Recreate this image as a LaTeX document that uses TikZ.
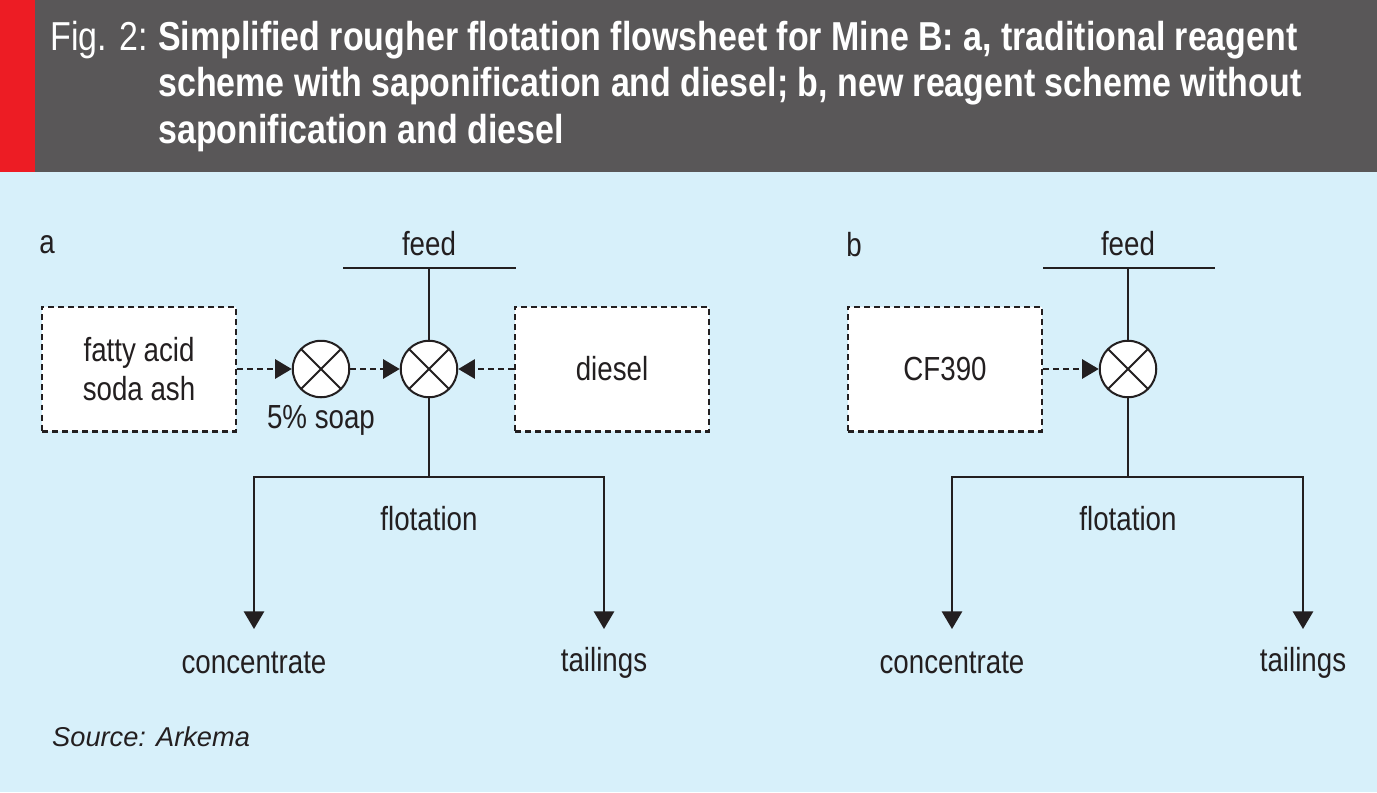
\documentclass[tikz,border=0pt]{standalone}
\usepackage{fontspec}
\setmainfont{Liberation Sans}[FakeStretch=0.83]
\newfontfamily\titlefont{Liberation Sans}[FakeStretch=0.84]
\newfontfamily\sourcefont{Liberation Sans}
\usetikzlibrary{arrows.meta,positioning}
\definecolor{bgblue}{RGB}{215,240,250}
\definecolor{headgray}{RGB}{89,87,88}
\definecolor{barred}{RGB}{237,28,36}
\definecolor{inkdark}{RGB}{35,31,32}
\tikzset{
  line/.style={draw=inkdark, line width=1.15pt},
  reagent/.style={line, dash pattern=on 3.4pt off 2.3pt, fill=white,
    minimum width=3.88cm, minimum height=2.5cm, inner sep=0pt, align=center},
  mixer/.style={line, circle, fill=white, minimum size=1.13cm, inner sep=0pt,
    path picture={\draw[line]
      (path picture bounding box.north west) -- (path picture bounding box.south east)
      (path picture bounding box.north east) -- (path picture bounding box.south west);}},
  dose/.style={line, dash pattern=on 3.4pt off 2.3pt, -{Triangle[length=9.5pt,width=11pt]}},
  product/.style={line, -{Triangle[length=10pt,width=11.5pt]}},
  label/.style={text=inkdark, font=\fontsize{19}{22}\selectfont},
  heading/.style={anchor=base west, text=white, inner sep=0pt}
}
\begin{document}
\begin{tikzpicture}[x=0.02cm, y=-0.02cm, every node/.style={label}]
    % Background and title bar
    \fill[bgblue] (0,0) rectangle (1377,792);
    \fill[headgray] (0,0) rectangle (1377,172);
    \fill[barred] (0,0) rectangle (35,172);
    \node[heading, font=\titlefont\fontsize{23}{28}\selectfont] (figno) at (50,50) {Fig. 2:};
    \node[heading, font=\titlefont\bfseries\fontsize{23}{28}\selectfont] (title1) at (158,50)
      {Simplified rougher flotation flowsheet for Mine B: a, traditional reagent};
    \node[heading, font=\titlefont\bfseries\fontsize{23}{28}\selectfont] (title2) at (158,96)
      {scheme with saponification and diesel; b, new reagent scheme without};
    \node[heading, font=\titlefont\bfseries\fontsize{23}{28}\selectfont] (title3) at (158,143)
      {saponification and diesel};

    % (a) traditional scheme
    \node (labela) at (47,245) {a};
    \node (feeda) at (429,244) {feed};
    \coordinate (feedla) at (343,268);
    \coordinate (feedra) at (516,268);
    \node[reagent] (acid) at (139,369) {fatty acid\\soda ash};
    \node[mixer] (soapmix) at (321,369) {};
    \node[mixer] (mixa) at (429,369) {};
    \node[reagent] (diesel) at (612,369) {diesel};
    \node (soap) at (321,420) {5\% soap};
    \coordinate (splita) at (429,477);
    \node (flota) at (429,519) {flotation};
    \coordinate (concenda) at (254,629);
    \coordinate (tailenda) at (604,629);
    \node (conca) at (254,663) {concentrate};
    \node (taila) at (604,663) {tailings};

    \draw[line] (feedla) -- (feedra);
    \draw[line] (mixa.north) -- (mixa.north |- feedla);
    \draw[dose] (acid) -- (soapmix);
    \draw[dose] (soapmix) -- (mixa);
    \draw[dose] (diesel) -- (mixa);
    \draw[line] (mixa.south) -- (splita);
    \draw[product] (splita) -| (concenda);
    \draw[product] (splita) -| (tailenda);

    % (b) new scheme
    \node (labelb) at (854,245) {b};
    \node (feedb) at (1128,244) {feed};
    \coordinate (feedlb) at (1043,268);
    \coordinate (feedrb) at (1215,268);
    \node[reagent] (cf) at (945,369) {CF390};
    \node[mixer] (mixb) at (1128,369) {};
    \coordinate (splitb) at (1128,477);
    \node (flotb) at (1128,519) {flotation};
    \coordinate (concendb) at (952,629);
    \coordinate (tailendb) at (1303,629);
    \node (concb) at (952,663) {concentrate};
    \node (tailb) at (1303,663) {tailings};

    \draw[line] (feedlb) -- (feedrb);
    \draw[line] (mixb.north) -- (mixb.north |- feedlb);
    \draw[dose] (cf) -- (mixb);
    \draw[line] (mixb.south) -- (splitb);
    \draw[product] (splitb) -| (concendb);
    \draw[product] (splitb) -| (tailendb);

    % Source
    \node[anchor=west, font=\sourcefont\itshape\fontsize{15.5}{19}\selectfont] (source) at (46,737) {Source: Arkema};
\end{tikzpicture}
\end{document}
